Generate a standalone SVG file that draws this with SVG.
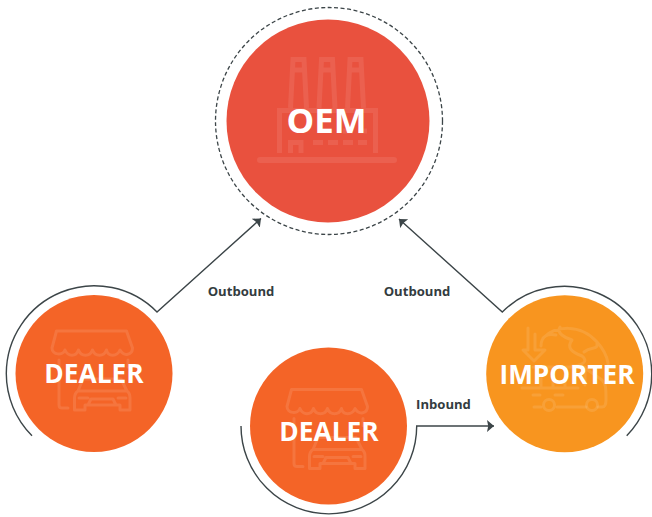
<svg xmlns="http://www.w3.org/2000/svg" width="652" height="517" viewBox="0 0 652 517">
<style>
.name{font-family:"Open Sans","Liberation Sans",sans-serif;font-weight:700;fill:#fff;text-anchor:middle}
.lbl{font-family:"Open Sans","Liberation Sans",sans-serif;font-weight:700;font-size:13.1px;fill:#333c40;text-anchor:middle}
.wire{fill:none;stroke:#3c4548;stroke-width:1.4}
.ic{fill:none;stroke:#fff;stroke-opacity:.11;stroke-width:3;stroke-linecap:round;stroke-linejoin:round}
.fat{stroke-width:5;stroke-linecap:butt;stroke-linejoin:miter;stroke-opacity:.09}
</style>
<defs>
<marker id="ah" markerUnits="userSpaceOnUse" markerWidth="10" markerHeight="14" refX="7" refY="6.5" orient="auto"><path d="M0 .5L7 6.500L0 12.500L1.200 6.500Z" fill="#3c4548"/></marker>
<g id="shop"><path class="ic" d="M-37.500 -42H32.500L38.500 -25C38.500 -18 30 -16 26 -23C23 -16 14 -16 12.500 -23C10 -16 1 -16 -1.500 -23C-4 -16 -13 -16 -15.500 -23C-18 -16 -26 -16 -29 -23C-31 -17 -42 -18 -42 -25Z"/><path class="ic" d="M-35 -13V32Q-35 35 -32 35H-26M34 -13V-6M-11 6H27L33 18C36 20 36 22 36 25V37H26V32H-9V37H-19.500V25C-19.500 22 -19 20 -16 18ZM-16 18H33M-15 25H-6M24 25H32M-6 32L-3 26H19L22 32"/></g>
</defs>
<g id="connectors">
<path class="wire" d="M32 435.700A88 88 0 0 1 6.300 373.500A88 88 0 0 1 157 312L261 218.500" marker-end="url(#ah)"/>
<path class="wire" d="M241 426A87.850 87.850 0 0 0 416.700 426H494" marker-end="url(#ah)"/>
<path class="wire" d="M626.700 435.700A87.500 87.500 0 0 0 651.700 373.800A87.500 87.500 0 0 0 502.300 312L399 219" marker-end="url(#ah)"/>
</g>
<g id="oem">
<circle cx="329" cy="121" r="113.500" fill="none" stroke="#3c4548" stroke-width="1.300" stroke-dasharray="4 2.500"/>
<circle cx="328" cy="121" r="101.500" fill="#e9513e"/>
<path class="ic fat" d="M279.500 153V110.500H375.500V153M290.500 108L293 59.500H304L306.500 108M319 108L321.500 59.500H332.500L335 108M347.500 108L350 59.500H361L363.500 108M293 70H304M321.500 70H332.500M350 70H361M290.500 153V142.500H301V153M313 142.500H323M328 142.500H338M343 142.500H353M358 142.500H367M343 131H353M358 131H367"/>
<path class="ic fat" style="stroke-linecap:round;stroke-width:6" d="M260 160H394"/>
<text class="name" x="326.500" y="132.500" font-size="34.800">OEM</text>
</g>
<g id="dealer-left">
<circle cx="94" cy="373.500" r="78.500" fill="#f46427"/>
<use href="#shop" x="94" y="373"/>
<text class="name" x="94" y="382.500" font-size="26.300">DEALER</text>
</g>
<g id="dealer-center">
<circle cx="328.500" cy="426" r="78.500" fill="#f46427"/>
<use href="#shop" x="329" y="431.500"/>
<text class="name" x="329" y="441.300" font-size="26.300">DEALER</text>
</g>
<g id="importer">
<circle cx="564.700" cy="373.800" r="78.500" fill="#f8951f"/>
<path class="ic" d="M528 328V350H523L534 361L545 350H535V334M541 346C541 336 548 333 556 335M543 338C555 326 580 323 597 342C608 354 612 368 605 385M560 327C556 333 565 338 572 340C566 348 572 352 582 356C590 362 580 366 572 366M584 352C592 345 598 352 597 342M533 367H585V385M585 368L602 380C606 384 606 388 606 400Q606 407 602 407H598M586 407H557M541 407H534M522 388H578M533 395H540M555 395H563M541 375V388M553 375V388M565 375V388"/>
<circle class="ic" cx="549" cy="405" r="5.500"/><circle class="ic" cx="592" cy="405" r="5.500"/>
<text class="name" x="567" y="383.500" font-size="26.200">IMPORTER</text>
</g>
<g id="labels">
<text class="lbl" x="241" y="295.500">Outbound</text>
<text class="lbl" x="417" y="295.500">Outbound</text>
<text class="lbl" x="443.500" y="409">Inbound</text>
</g>
</svg>
